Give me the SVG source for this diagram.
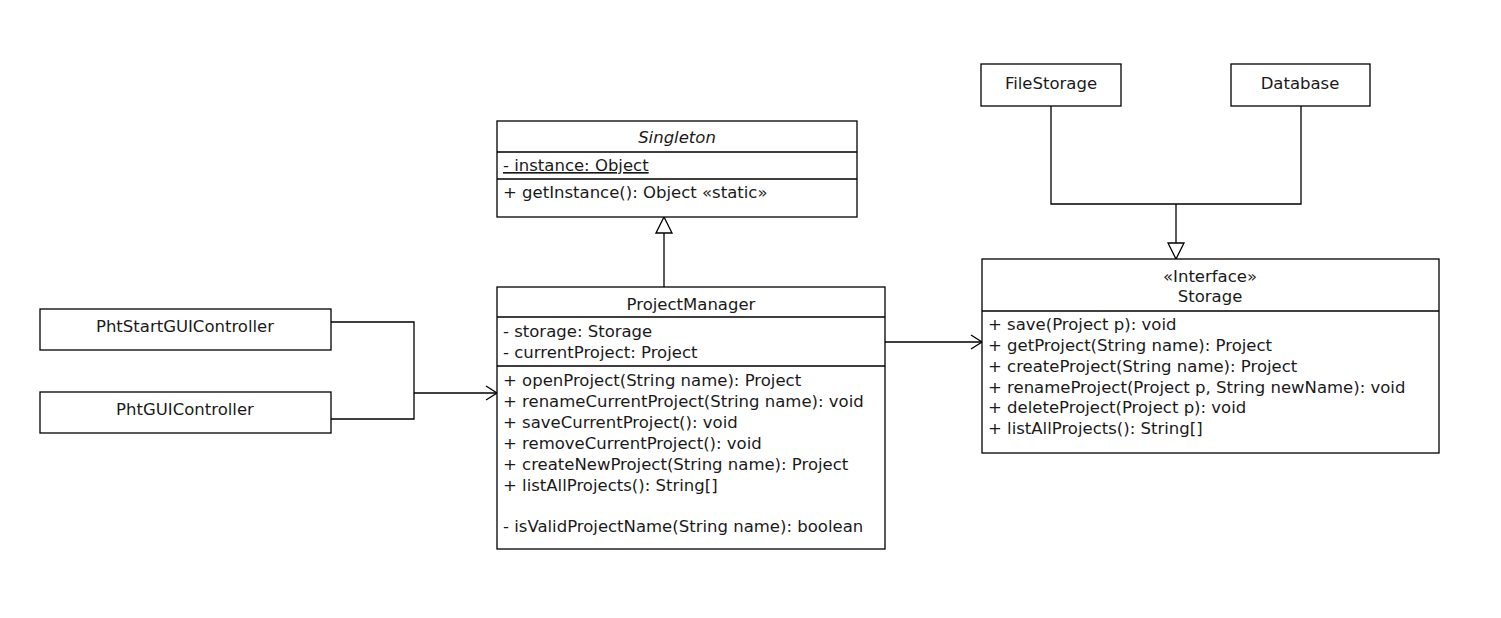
<svg xmlns="http://www.w3.org/2000/svg" width="1501" height="618" viewBox="0 0 1501 618">
<style>
.box{fill:#fff;stroke:#000;stroke-width:1.3}
.ln{fill:none;stroke:#000;stroke-width:1.3}
text{font-family:"DejaVu Sans",sans-serif;font-size:16.5px;fill:#1a1a1a}
.c{text-anchor:middle}
</style>
<defs>
<marker id="open" markerWidth="14" markerHeight="18" refX="12" refY="8" orient="auto" markerUnits="userSpaceOnUse">
<path d="M1,1 L12,8 L1,15" fill="none" stroke="#000" stroke-width="1.3"/>
</marker>
<marker id="tri" markerWidth="20" markerHeight="20" refX="17" refY="9" orient="auto" markerUnits="userSpaceOnUse">
<path d="M1,1 L17,9 L1,17 Z" fill="#fff" stroke="#000" stroke-width="1.3"/>
</marker>
</defs>
<rect width="1501" height="618" fill="#fff"/>
<g id="connectors">
<path class="ln" d="M664,287 L664,217" marker-end="url(#tri)"/>
<path class="ln" d="M1051,106 L1051,204 L1301,204 L1301,106"/>
<path class="ln" d="M1176,204 L1176,259" marker-end="url(#tri)"/>
<path class="ln" d="M331,322 L414,322 L414,419 L331,419"/>
<path class="ln" d="M414,393 L497,393" marker-end="url(#open)"/>
<path class="ln" d="M885,342 L982,342" marker-end="url(#open)"/>
</g>
<g id="singleton">
<rect class="box" x="497" y="121" width="360" height="96"/>
<path class="ln" d="M497,152 L857,152 M497,179 L857,179"/>
<text class="c" x="677" y="143" font-style="italic">Singleton</text>
<text x="503" y="171" text-decoration="underline">- instance: Object</text>
<text x="503" y="198">+ getInstance(): Object «static»</text>
</g>
<g id="projectmanager">
<rect class="box" x="497" y="287" width="388" height="262"/>
<path class="ln" d="M497,317 L885,317 M497,366 L885,366"/>
<text class="c" x="691" y="310">ProjectManager</text>
<text x="503" y="337">- storage: Storage</text>
<text x="503" y="358">- currentProject: Project</text>
<text x="503" y="385.5">+ openProject(String name): Project</text>
<text x="503" y="406.5">+ renameCurrentProject(String name): void</text>
<text x="503" y="427.5">+ saveCurrentProject(): void</text>
<text x="503" y="448.5">+ removeCurrentProject(): void</text>
<text x="503" y="469.5">+ createNewProject(String name): Project</text>
<text x="503" y="490.5">+ listAllProjects(): String[]</text>
<text x="503" y="531.5">- isValidProjectName(String name): boolean</text>
</g>
<g id="storage">
<rect class="box" x="982" y="259" width="457" height="194"/>
<path class="ln" d="M982,311 L1439,311"/>
<text class="c" x="1210" y="282">«Interface»</text>
<text class="c" x="1210" y="302">Storage</text>
<text x="988" y="330">+ save(Project p): void</text>
<text x="988" y="351">+ getProject(String name): Project</text>
<text x="988" y="372">+ createProject(String name): Project</text>
<text x="988" y="393">+ renameProject(Project p, String newName): void</text>
<text x="988" y="413">+ deleteProject(Project p): void</text>
<text x="988" y="434">+ listAllProjects(): String[]</text>
</g>
<g id="filestorage">
<rect class="box" x="981" y="64" width="140" height="42"/>
<text class="c" x="1051" y="89">FileStorage</text>
</g>
<g id="database">
<rect class="box" x="1231" y="64" width="139" height="42"/>
<text class="c" x="1300" y="89">Database</text>
</g>
<g id="phtstart">
<rect class="box" x="40" y="309" width="291" height="41"/>
<text class="c" x="185" y="332">PhtStartGUIController</text>
</g>
<g id="phtgui">
<rect class="box" x="40" y="392" width="291" height="41"/>
<text class="c" x="185" y="415">PhtGUIController</text>
</g>
</svg>
